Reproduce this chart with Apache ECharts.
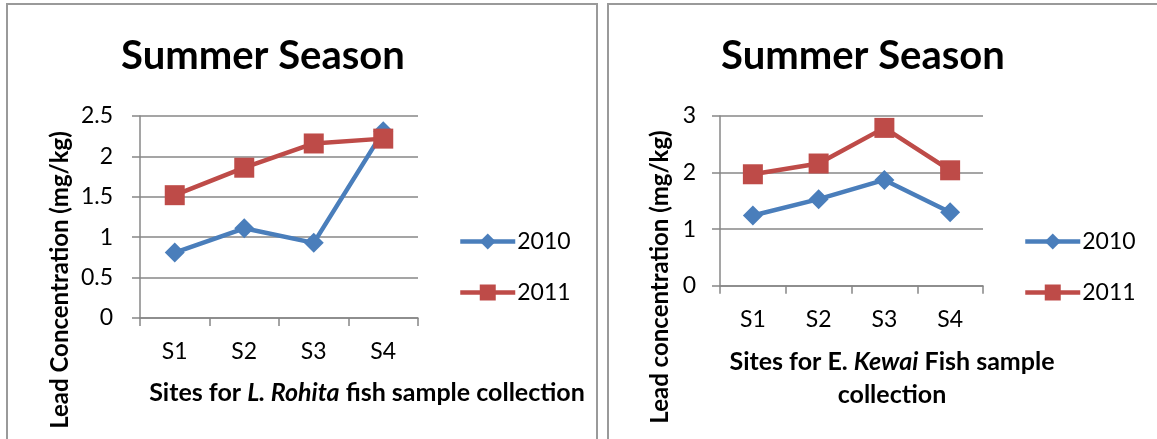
<!DOCTYPE html>
<html>
<head>
<meta charset="utf-8">
<script src="https://cdn.jsdelivr.net/npm/echarts@6/dist/echarts.min.js"></script>
<style>html,body{margin:0;padding:0;background:#fff;}#c{width:1157px;height:439px;}</style>
</head>
<body>
<div id="c"></div>
<script>
const categories = ['S1', 'S2', 'S3', 'S4'];
const seriesNames = ['2010', '2011'];
const rohita2010 = [0.81, 1.11, 0.93, 2.31];
const rohita2011 = [1.52, 1.86, 2.16, 2.22];
const kewai2010 = [1.24, 1.53, 1.87, 1.30];
const kewai2011 = [1.97, 2.16, 2.79, 2.04];
const leftTicks = { min: 0, max: 2.5, interval: 0.5 };
const rightTicks = { min: 0, max: 3, interval: 1 };

const FONT = 'Lato';
const BLUE = '#4A7EBB';
const RED = '#BE4B48';
const GRIDC = '#878787';
const LBL = 23;
const TTL = 24;
const XTTL = 25;

function xAxis(gridIndex) {
  return {
    type: 'category', gridIndex, data: categories, boundaryGap: true,
    axisLine: { lineStyle: { color: GRIDC, width: 1.5 } },
    axisTick: { show: true, length: 8, alignWithLabel: false, lineStyle: { color: GRIDC, width: 1.5 } },
    axisLabel: { color: '#000', fontFamily: FONT, fontSize: LBL, margin: 22 }
  };
}
function yAxis(gridIndex, t, margin) {
  return {
    type: 'value', gridIndex, min: t.min, max: t.max, interval: t.interval,
    axisLine: { show: true, lineStyle: { color: GRIDC, width: 1.5 } },
    axisTick: { show: true, length: 8, lineStyle: { color: GRIDC, width: 1.5 } },
    splitLine: { show: true, lineStyle: { color: GRIDC, width: 1.5 } },
    axisLabel: { color: '#000', fontFamily: FONT, fontSize: LBL, margin: margin }
  };
}
function line(name, data, idx, color, symbol, size) {
  return {
    name, type: 'line', data, xAxisIndex: idx, yAxisIndex: idx,
    symbol, symbolSize: size, color,
    lineStyle: { color, width: 4.5 },
    itemStyle: { color },
    animation: false
  };
}
function legend(left) {
  return { data: seriesNames, orient: 'vertical', left, top: 230, itemWidth: 55, itemHeight: 20, itemGap: 28,
    lineStyle: { width: 4.5 },
    textStyle: { fontFamily: FONT, fontSize: LBL, color: '#000', padding: [0, 0, 0, -3] }, padding: 0 };
}

const chart = echarts.init(document.getElementById('c'));
chart.setOption({
  animation: false,
  title: [
    { text: 'Summer Season', left: 258, top: 31, textAlign: 'center',
      textStyle: { fontFamily: FONT, fontWeight: 'bold', fontSize: 40, color: '#000' } },
    { text: 'Summer Season', left: 858, top: 31, textAlign: 'center',
      textStyle: { fontFamily: FONT, fontWeight: 'bold', fontSize: 40, color: '#000' } }
  ],
  grid: [
    { left: 140, right: 1157 - 418, top: 116, bottom: 439 - 318 },
    { left: 720, right: 1157 - 983, top: 116, bottom: 439 - 285.7 }
  ],
  xAxis: [xAxis(0), xAxis(1)],
  yAxis: [yAxis(0, leftTicks, 27), yAxis(1, rightTicks, 24)],
  legend: [legend(458), legend(1023)],
  series: [
    line('2010', rohita2010, 0, BLUE, 'diamond', 20),
    line('2011', rohita2011, 0, RED, 'rect', 20),
    line('2010', kewai2010, 1, BLUE, 'diamond', 20),
    line('2011', kewai2011, 1, RED, 'rect', 20)
  ],
  graphic: [
    { type: 'rect', shape: { x: 7, y: 4, width: 590, height: 500 }, style: { fill: 'none', stroke: '#9a9a9a', lineWidth: 2 }, silent: true },
    { type: 'rect', shape: { x: 608, y: 4, width: 600, height: 500 }, style: { fill: 'none', stroke: '#9a9a9a', lineWidth: 2 }, silent: true },
    { type: 'text', x: 60, y: 280, rotation: Math.PI / 2,
      style: { text: 'Lead Concentration (mg/kg)', fontFamily: FONT, fontWeight: 'bold', fontSize: TTL, fill: '#000', textAlign: 'center', textVerticalAlign: 'middle' } },
    { type: 'text', x: 660, y: 277, rotation: Math.PI / 2,
      style: { text: 'Lead concentration (mg/kg)', fontFamily: FONT, fontWeight: 'bold', fontSize: TTL, fill: '#000', textAlign: 'center', textVerticalAlign: 'middle' } },
    { type: 'text', x: 367, y: 393,
      style: { text: '{b|Sites for }{i|L. Rohita}{b| fish sample collection}', textAlign: 'center', textVerticalAlign: 'middle',
        rich: { b: { fontFamily: FONT, fontWeight: 'bold', fontSize: XTTL, color: '#000' },
                i: { fontFamily: FONT, fontWeight: 'bold', fontStyle: 'italic', fontSize: XTTL, color: '#000' } } } },
    { type: 'text', x: 892, y: 362,
      style: { text: '{b|Sites for E. }{i|Kewai}{b| Fish sample}', textAlign: 'center', textVerticalAlign: 'middle',
        rich: { b: { fontFamily: FONT, fontWeight: 'bold', fontSize: XTTL, color: '#000' },
                i: { fontFamily: FONT, fontWeight: 'bold', fontStyle: 'italic', fontSize: XTTL, color: '#000' } } } },
    { type: 'text', x: 892, y: 395,
      style: { text: 'collection', textAlign: 'center', textVerticalAlign: 'middle', fontFamily: FONT, fontWeight: 'bold', fontSize: XTTL, fill: '#000' } }
  ]
});
</script>
</body>
</html>
